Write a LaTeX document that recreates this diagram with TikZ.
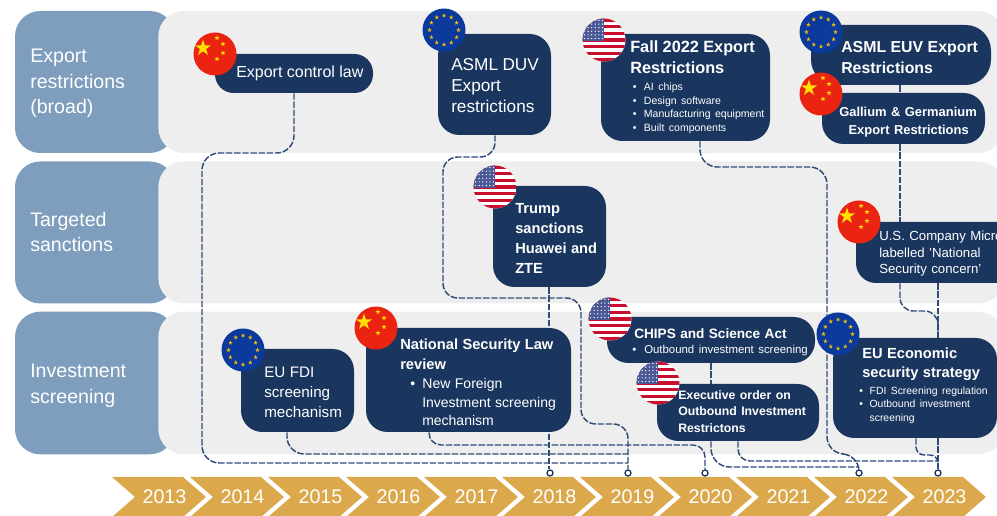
\documentclass[tikz,border=0pt]{standalone}
\usepackage{fontspec}
\setmainfont{Liberation Sans}
\usetikzlibrary{calc}
\definecolor{navy}{HTML}{1A365F}
\definecolor{dashc}{HTML}{2F4C78}
\definecolor{labelc}{HTML}{7F9DBC}
\definecolor{panelc}{HTML}{EEEEEE}
\definecolor{goldc}{HTML}{DBA94C}
\definecolor{cnred}{HTML}{EA2410}
\definecolor{cnyel}{HTML}{FFE000}
\definecolor{eublue}{HTML}{0B3A9C}
\definecolor{eustar}{HTML}{F0B90B}
\definecolor{usred}{HTML}{C8102E}
\definecolor{usblue}{HTML}{4A5896}
\pgfdeclarelayer{back}
\pgfdeclarelayer{mid}
\pgfsetlayers{back,mid,main}
\tikzset{
  bandlabel/.style={fill=labelc,rounded corners=19pt,inner sep=0pt},
  bandtext/.style={text=white,align=left,anchor=west,inner sep=0pt,text width=97.5pt,font=\fontsize{14.7pt}{19.1pt}\selectfont},
  bandpanel/.style={fill=panelc,rounded corners=19pt,inner sep=0pt},
  navybox/.style={fill=navy,inner sep=0pt,rounded corners=16pt},
  boxtext/.style={text=white,inner sep=0pt,align=left,anchor=west,text width=240pt},
  link/.style={draw=dashc,line width=1.1pt,dash pattern=on 4.8pt off 1.3pt,rounded corners=13pt},
  yeardot/.style={circle,draw=navy,fill=white,line width=1pt,inner sep=0pt,minimum size=4.5pt},
  yearlabel/.style={text=white,inner sep=0pt,font=\fontsize{14.8pt}{18pt}\selectfont},
}
\newcommand\ttl[1]{{\fontsize{12.2pt}{15.7pt}\selectfont\bfseries #1\par}}
\newcommand\ttlb[1]{{\fontsize{11pt}{15pt}\selectfont\bfseries #1\par}}
\newcommand\subl[3]{{\fontsize{#1pt}{#2pt}\selectfont #3\par}}
% \ebox[box opts]{name}{x0}{y0}{x1}{y1}{text x}{text y}{text}
\newcommand\ebox[9][]{%
  \pgfmathsetmacro\bw{(#5-#3)*0.75}%
  \pgfmathsetmacro\bh{(#6-#4)*0.75}%
  \node[navybox,minimum width=\bw pt,minimum height=\bh pt,#1] (#2) at ({(#3+#5)/2},{(#4+#6)/2}) {};
  \node[boxtext] (#2t) at (#7,#8) {#9};}
\newcommand\fstar[3]{\fill[shift={(#1,#2)}] (-90:#3) -- (54:#3) -- (198:#3) -- (342:#3) -- (126:#3) -- cycle;}
\newcommand\cnflag[2]{\begin{scope}[shift={(#1,#2)}]
  \fill[cnred] (0,0) circle (21.5);
  \begin{scope}[cnyel]
  \fstar{-12}{-6}{8.5}\fstar{2}{-16}{2.6}\fstar{8}{-10}{2.6}\fstar{8}{-1}{2.6}\fstar{2}{5}{2.6}
  \end{scope}
\end{scope}}
\newcommand\euflag[2]{\begin{scope}[shift={(#1,#2)}]
  \fill[eublue] (0,0) circle (21.5);
  \begin{scope}[eustar]
  \foreach \a in {0,30,...,330}{\begin{scope}[shift={(\a:14.5)}]\fstar{0}{0}{2.4}\end{scope}}
  \end{scope}
\end{scope}}
\newcommand\usflag[2]{\begin{scope}[shift={(#1,#2)}]
  \begin{scope}
  \clip (0,0) circle (21.5);
  \fill[white] (-22,-22) rectangle (22,22);
  \foreach \k in {0,2,...,12}{\fill[usred] (-22,{-21.5+\k*3.31}) rectangle (22,{-21.5+(\k+1)*3.31});}
  \fill[usblue] (-22,-22) rectangle (0,1);
  \foreach \i in {0,...,5}{\foreach \j in {0,...,5}{\fill[white] ({-19.5+\i*3.6},{-19.5+\j*3.6}) circle (0.7);}}
  \end{scope}
\end{scope}}
\begin{document}
\begin{tikzpicture}[x=0.75pt,y=-0.75pt]
\useasboundingbox (0,0) rectangle (997,516);
% bands
\begin{pgfonlayer}{back}
\node[bandlabel,minimum width=120pt,minimum height=106.5pt] (lab1) at (95,82) {};
\node[bandlabel,minimum width=120pt,minimum height=106.5pt] (lab2) at (95,232.5) {};
\node[bandlabel,minimum width=120pt,minimum height=107pt] (lab3) at (95,383) {};
\node[bandpanel,minimum width=634pt,minimum height=106.5pt] (pan1) at (581,82) {};
\node[bandpanel,minimum width=634pt,minimum height=106.5pt] (pan2) at (581,232.5) {};
\node[bandpanel,minimum width=634pt,minimum height=107pt] (pan3) at (581,383) {};
\end{pgfonlayer}
\node[bandtext] (lab1t) at (30,83.5) {Export\\restrictions\\(broad)};
\node[bandtext] (lab2t) at (30,232) {Targeted\\sanctions};
\node[bandtext] (lab3t) at (30,386) {Investment\\screening};
% timeline
\foreach \yr [count=\i from 0] in {2013,...,2023}{
  \pgfmathsetmacro\xa{112+78*\i}
  \fill[goldc] (\xa,477) -- (\xa+71,477) -- (\xa+94,497) -- (\xa+71,517) -- (\xa,517) -- (\xa+23,497) -- cycle;
  \node[yearlabel] (y\yr) at (\xa+52.5,497) {\yr};
}
\node[yeardot] (d2018) at (550,473) {};
\node[yeardot] (d2019) at (628,473) {};
\node[yeardot] (d2020) at (705,473) {};
\node[yeardot] (d2022) at (859,473) {};
\node[yeardot] (d2023) at (938,473) {};
% boxes
\ebox[rounded corners=14pt]{ecl}{215}{54}{373}{93}{236}{73}{\subl{12}{15}{Export control law}}
\ebox{duv}{438}{34}{551}{135}{451}{86}{\subl{12.9}{15.8}{ASML DUV\\Export\\restrictions}}
\ebox{fall}{601}{34}{770}{141}{630}{87.5}{\ttl{Fall 2022 Export\\Restrictions}\vspace{2.2pt}\subl{7.9}{10.3}{\hspace*{2pt}\textbullet\hspace{5.5pt}AI chips\\\hspace*{2pt}\textbullet\hspace{5.5pt}Design software\\\hspace*{2pt}\textbullet\hspace{5.5pt}Manufacturing equipment\\\hspace*{2pt}\textbullet\hspace{5.5pt}Built components}}
\ebox[rounded corners=19pt]{euv}{811}{25}{991}{85}{841}{57.5}{{\fontsize{11.9pt}{16.2pt}\selectfont\bfseries ASML EUV Export\\Restrictions\par}}
\ebox{gal}{822}{93}{985}{144}{839}{122}{{\fontsize{9.7pt}{13.5pt}\selectfont\bfseries\hspace*{0pt}Gallium \& Germanium\\\hspace*{7pt}Export Restrictions\par}}
\ebox{trump}{493}{186}{606}{287}{515}{238.5}{\ttlb{Trump\\sanctions\\Huawei and\\ZTE}}
\ebox[rounded corners=15pt]{micron}{856}{222}{1040}{283}{879}{254}{\subl{9.9}{12.4}{U.S.~Company~Micron\\labelled 'National\\Security concern'}}
\ebox{fdi}{241}{349}{354}{432}{264}{392}{\subl{11.4}{15}{EU FDI\\screening\\mechanism}}
\ebox{nsl}{366}{328}{571}{432}{400}{382.5}{\ttlb{National Security Law\\review}\subl{10.5}{13.9}{\hspace*{7.5pt}\textbullet\hspace{5.5pt}New Foreign\\\hspace*{16.5pt}Investment screening\\\hspace*{16.5pt}mechanism}}
\ebox{chips}{607}{317}{815}{363}{634}{342}{{\fontsize{10.2pt}{12pt}\selectfont\bfseries CHIPS and Science Act\par}\subl{8.55}{11}{\hspace*{-1.5pt}\textbullet\hspace{6pt}Outbound investment screening}}
\ebox{exec}{657}{384}{819}{441}{678}{411.5}{{\fontsize{9.2pt}{12.4pt}\selectfont\bfseries Executive order on\\Outbound Investment\\Restrictons\par}}
\ebox{eco}{833}{338}{997}{438}{862}{385.5}{{\fontsize{11pt}{14.6pt}\selectfont\bfseries EU Economic\\security strategy\par}\vspace{2.2pt}\subl{7.8}{10.2}{\hspace*{-2.2pt}\textbullet\hspace{5pt}FDI Screening regulation\\\hspace*{-2.2pt}\textbullet\hspace{5pt}Outbound investment\\\hspace*{5.5pt}screening}}
% connectors
\begin{pgfonlayer}{mid}
\path[link] (294,0 |- ecl.south) -- (294,153) -- (202,153) -- (202,463) -- (d2019 |- 0,463);
\path[link] (287,0 |- fdi.south) -- (287,454) -- (d2019 |- 0,454);
\path[link,rounded corners=9pt] (429,0 |- nsl.south) -- (429,445) -- (705,445) -- (d2020.north);
\path[link,rounded corners=0pt] (549,0 |- trump.south) -- (549,0 |- d2018.north);
\path[link,rounded corners=11pt] (495,0 |- duv.south) -- (495,157) -- (443,157) -- (443,298) -- (581,298) -- (581,424) -- (628,424) -- (d2019.north);
\path[link] (700,0 |- fall.south) -- (700,167) -- (827,167) -- (827,454) -- (859,454) -- (d2022.north);
\path[link,rounded corners=0pt] (900,0 |- euv.south) -- (900,0 |- gal.north);
\path[link,rounded corners=0pt] (900,0 |- gal.south) -- (900,0 |- micron.north);
\path[link,rounded corners=10pt] (900,0 |- micron.south) -- (900,311) -- (938,311) -- (938,0 |- eco.north);
\path[link,rounded corners=0pt] (938,0 |- micron.south) -- (938,0 |- eco.north);
\path[link,rounded corners=0pt] (711,0 |- chips.south) -- (711,0 |- exec.north);
\path[link,rounded corners=14pt] (711,0 |- exec.south) -- (711,467) -- (859,467);
\path[link,rounded corners=9pt] (738,0 |- exec.south) -- (738,461) -- (938,461);
\path[link,rounded corners=6pt] (916,0 |- eco.south) -- (916,455) -- (938,455) -- (938,461);
\path[link,rounded corners=0pt] (938,0 |- eco.south) -- (d2023.north);
\end{pgfonlayer}
% flags
\cnflag{215}{54}
\euflag{444}{30}
\usflag{604}{40}
\euflag{821}{32}
\cnflag{821}{94}
\cnflag{859}{222}
\usflag{495}{187}
\euflag{243}{350}
\cnflag{376}{328}
\usflag{610}{319}
\usflag{658}{383}
\euflag{838}{334}
\end{tikzpicture}
\end{document}
